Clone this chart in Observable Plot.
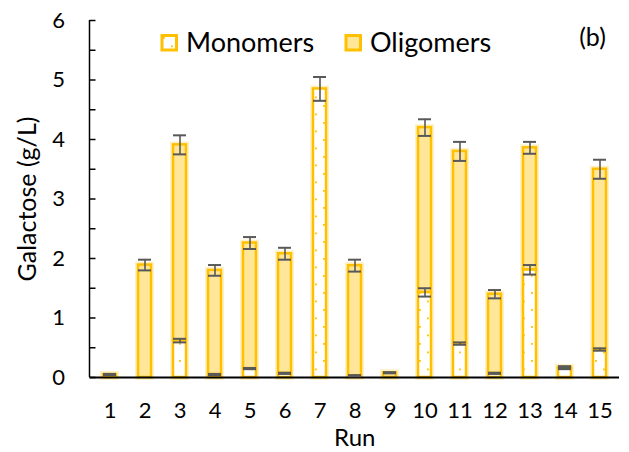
<!DOCTYPE html>
<html>
<head>
<meta charset="utf-8">
<script src="https://cdn.jsdelivr.net/npm/d3@7"></script>
<script src="https://cdn.jsdelivr.net/npm/@observablehq/plot@0.6"></script>
<style>
  html, body { margin: 0; padding: 0; background: #fff; }
  #chart { width: 629px; height: 452px; }
</style>
</head>
<body>
<div id="chart"></div>
<script>
// ---- data ----
const runs = ["1","2","3","4","5","6","7","8","9","10","11","12","13","14","15"];
const monomers   = [0.00, 0.00, 0.62, 0.05, 0.15, 0.07, 4.85, 0.03, 0.00, 1.43, 0.57, 0.07, 1.81, 0.15, 0.47];
const totals     = [0.05, 1.89, 3.91, 1.80, 2.26, 2.08, 4.85, 1.88, 0.08, 4.20, 3.80, 1.40, 3.86, 0.17, 3.50];
const monomerErr = [null, null, 0.03, 0.01, 0.01, 0.01, null, 0.01, null, 0.07, 0.02, 0.01, 0.08, 0.01, 0.02];
const totalErr   = [0.01, 0.09, 0.16, 0.09, 0.10, 0.10, 0.20, 0.10, 0.01, 0.14, 0.16, 0.07, 0.10, 0.02, 0.16];
const yTicks = [0, 1, 2, 3, 4, 5, 6];
const yMinorTicks = [0, 0.5, 1, 1.5, 2, 2.5, 3, 3.5, 4, 4.5, 5, 5.5, 6];
const seriesNames = ["Monomers", "Oligomers"];

const rows = runs.map((r, i) => ({run: r, m: monomers[i], t: totals[i], me: monomerErr[i], te: totalErr[i]}));

const GOLD = "#FFC000", LIGHT = "#FFE699", ERR = "#595959";
const FONT = "Lato, 'Open Sans', sans-serif";

const chart = Plot.plot({
  width: 629,
  height: 452,
  marginLeft: 89.5,
  marginRight: 10,
  marginTop: 20,
  marginBottom: 75,
  style: {fontFamily: FONT, color: "#000", background: "#fff"},
  x: {domain: runs, paddingInner: 0.63, paddingOuter: 0.315, label: null},
  y: {domain: [0, 6], label: null},
  marks: [
    // soft halo
    Plot.barY(rows, {x: "run", y1: 0, y2: "t", fill: "none", stroke: GOLD, strokeOpacity: 0.22, strokeWidth: 6}),
    // monomer bars
    Plot.barY(rows.filter(d => d.m > 0), {x: "run", y1: 0, y2: "m", fill: "url(#monoDots)", stroke: GOLD, strokeWidth: 2.5}),
    // oligomer bars
    Plot.barY(rows.filter(d => d.t - d.m > 0.001), {x: "run", y1: "m", y2: "t", fill: LIGHT, stroke: GOLD, strokeWidth: 2.5}),
    // x axis line
    Plot.ruleY([0], {stroke: "#000", strokeWidth: 2}),
    // total error bars
    Plot.ruleX(rows, {x: "run", y1: d => d.t - d.te, y2: d => d.t + d.te, stroke: ERR, strokeWidth: 1.6}),
    Plot.tickY(rows, {x: "run", y: d => d.t + d.te, stroke: ERR, strokeWidth: 2}),
    Plot.tickY(rows, {x: "run", y: d => d.t - d.te, stroke: ERR, strokeWidth: 2}),
    // monomer error bars
    Plot.ruleX(rows.filter(d => d.me != null), {x: "run", y1: d => d.m - d.me, y2: d => d.m + d.me, stroke: ERR, strokeWidth: 1.6}),
    Plot.tickY(rows.filter(d => d.me != null), {x: "run", y: d => d.m + d.me, stroke: ERR, strokeWidth: 2}),
    Plot.tickY(rows.filter(d => d.me != null), {x: "run", y: d => d.m - d.me, stroke: ERR, strokeWidth: 2}),
    // axes
    Plot.axisX({tickSize: 0, tickPadding: 25, fontSize: 22, label: null}),
    Plot.axisY({ticks: yTicks, tickFormat: d3.format("d"), tickSize: 0, tickPadding: 25, fontSize: 22, label: null}),
    Plot.axisY({ticks: yMinorTicks, tickSize: 6, dx: 6, fill: "none", stroke: "#000", strokeWidth: 1.5, label: null}),
    // titles
    Plot.text(["Run"], {frameAnchor: "bottom", dy: 61, fontSize: 24, textAnchor: "middle", lineAnchor: "middle"}),
    Plot.text(["Galactose (g/L)"], {frameAnchor: "left", dx: -62, rotate: -90, fontSize: 25, textAnchor: "middle", lineAnchor: "middle"}),
    Plot.text(["(b)"], {frameAnchor: "top-right", dx: -27, dy: 17, fontSize: 25, textAnchor: "middle", lineAnchor: "middle"})
  ]
});

document.getElementById("chart").appendChild(chart);

// pattern for monomer fill
const svg = d3.select(chart);
const defs = svg.insert("defs", ":first-child");
const pat = defs.append("pattern").attr("id", "monoDots").attr("patternUnits", "userSpaceOnUse")
  .attr("width", 16).attr("height", 17);
pat.append("rect").attr("width", 16).attr("height", 17).attr("fill", "#fff");
pat.append("rect").attr("x", 3).attr("y", 3).attr("width", 1.8).attr("height", 1.8).attr("fill", GOLD);
pat.append("rect").attr("x", 11).attr("y", 11.5).attr("width", 1.8).attr("height", 1.8).attr("fill", GOLD);

// y axis line
const ys = chart.scale("y");
svg.append("line")
  .attr("x1", 89.5).attr("x2", 89.5)
  .attr("y1", ys.apply(0)).attr("y2", ys.apply(6))
  .attr("stroke", "#000").attr("stroke-width", 1.5);

// legend (inside the plot area, as in the reference)
const lg = svg.append("g").attr("font-family", FONT).attr("font-size", 27).attr("text-anchor", "start");
const items = [
  {name: seriesNames[0], fill: "url(#monoDots)", x: 162},
  {name: seriesNames[1], fill: LIGHT, x: 346}
];
items.forEach(it => {
  lg.append("rect").attr("x", it.x).attr("y", 35.5).attr("width", 14.5).attr("height", 14.5)
    .attr("fill", it.fill).attr("stroke", GOLD).attr("stroke-width", 3);
  lg.append("text").attr("x", it.x + 24).attr("y", 52).attr("fill", "#000")
    .style("font-size", "27px").style("text-anchor", "start").text(it.name);
});
</script>
</body>
</html>
